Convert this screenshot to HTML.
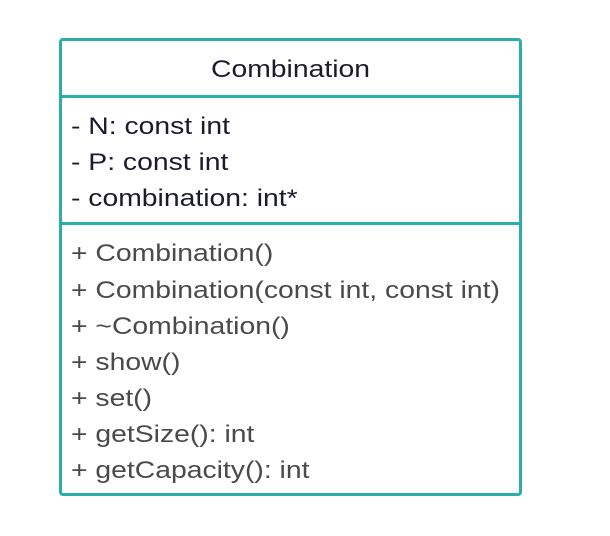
<!DOCTYPE html>
<html><head><style>
body{margin:0;width:610px;height:536px;background:#fff;position:relative;font-family:"Liberation Sans",sans-serif;}
.box{position:absolute;left:59px;top:38px;width:457px;height:452px;border:3px solid #2aaea9;border-radius:4px;}
.div{position:absolute;left:59px;width:463px;height:3px;background:#2aaea9;}
.t{position:absolute;left:71px;font-size:24px;white-space:nowrap;line-height:30px;transform:scaleX(1.18);transform-origin:0 0;}
.a{color:#1b1b2b}.m{color:#4a4a4a}
</style></head><body>
<div class="box"></div>
<div class="div" style="top:95px"></div>
<div class="div" style="top:222px"></div>
<div class="t a" style="left:211px;top:55px">Combination</div>
<div class="t a" style="top:112px">- N: const int</div>
<div class="t a" style="top:148px">- P: const int</div>
<div class="t a" style="top:184px">- combination: int*</div>
<div class="t m" style="top:239px">+ Combination()</div>
<div class="t m" style="top:276px">+ Combination(const int, const int)</div>
<div class="t m" style="top:312px">+ ~Combination()</div>
<div class="t m" style="top:348px">+ show()</div>
<div class="t m" style="top:384px">+ set()</div>
<div class="t m" style="top:420px">+ getSize(): int</div>
<div class="t m" style="top:456px">+ getCapacity(): int</div>
</body></html>
